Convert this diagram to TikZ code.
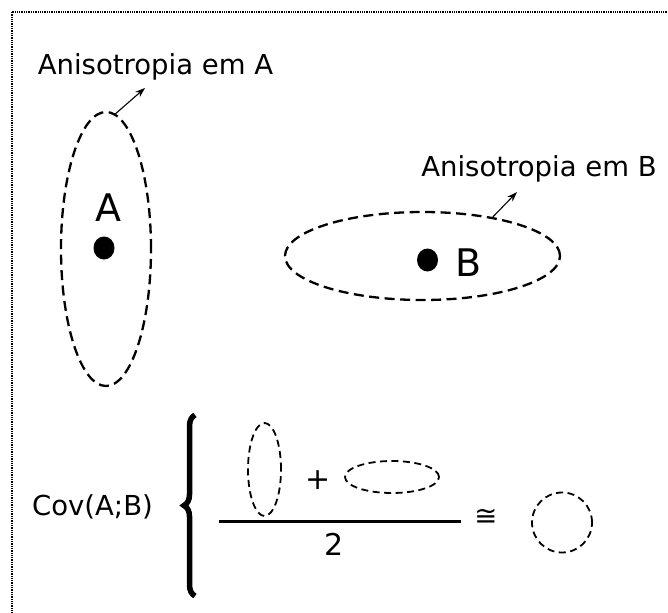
\documentclass[tikz,border=0pt]{standalone}
\usepackage{fontspec}
\setmainfont{DejaVu Sans}
\usetikzlibrary{shapes.geometric, arrows.meta, decorations.pathreplacing}

\begin{document}
\begin{tikzpicture}[x=1pt, y=-1pt,
    aniso/.style={ellipse, draw, dash pattern=on 10pt off 5.5pt, line width=2.3pt, inner sep=0pt},
    small/.style={ellipse, draw, dash pattern=on 7pt off 4.5pt, line width=1.8pt, inner sep=0pt},
    spot/.style={ellipse, fill=black, inner sep=0pt, minimum width=21pt, minimum height=23pt},
    pointer/.style={-{Stealth[length=10pt, width=7pt]}, line width=1.1pt},
    txt/.style={font=\fontsize{27.5}{33}\selectfont, inner sep=0pt},
    bigtxt/.style={font=\fontsize{38}{44}\selectfont, inner sep=0pt}]
    \clip (0,0) rectangle (668,612);
    % Frame
    \draw[densely dotted, line width=1.3pt] (12,12) rectangle (690,640);

    % Draw nodes
    \node[aniso, minimum width=90pt, minimum height=274pt] (ellA) at (106,249) {};
    \node[aniso, minimum width=275pt, minimum height=88pt] (ellB) at (422.5,256) {};
    \node[spot] (dotA) at (104,248) {};
    \node[spot] (dotB) at (427.5,260) {};
    \node[bigtxt, anchor=base] (letA) at (108.5,222) {A};
    \node[bigtxt, anchor=base] (letB) at (469,276) {B};
    \node[txt, anchor=base] (labA) at (155.5,75) {Anisotropia em A};
    \node[txt, anchor=base] (labB) at (539,177) {Anisotropia em B};
    \coordinate (tipA) at (145,88);
    \coordinate (tipB) at (517,192);

    % Draw connections
    \draw[pointer] (ellA.86) -- (tipA);
    \draw[pointer] (ellB.29.5) -- (tipB);

    % Covariance
    \node[txt, anchor=base] (cov) at (92.5,515) {Cov(A;B)};
    \draw[decorate, decoration={brace, amplitude=11pt, aspect=0.5}, line width=5.5pt] (195,596) -- (195,415);
    \node[small, minimum width=33pt, minimum height=93pt] (ellV) at (264.5,469.5) {};
    \node[txt, font=\fontsize{30}{36}\selectfont] (plus) at (318,480) {+};
    \node[small, minimum width=94pt, minimum height=32pt] (ellH) at (392,477) {};
    \coordinate (fracL) at (219,521);
    \coordinate (fracR) at (461,521);
    \draw[line width=3pt] (fracL) -- (fracR);
    \node[txt, font=\fontsize{30}{36}\selectfont, anchor=base] (two) at (334.5,555) {2};
    \node[txt] (approx) at (486,517) {≅};
    \node[small, circle, minimum size=60pt] (circ) at (562,522.5) {};
\end{tikzpicture}
\end{document}
